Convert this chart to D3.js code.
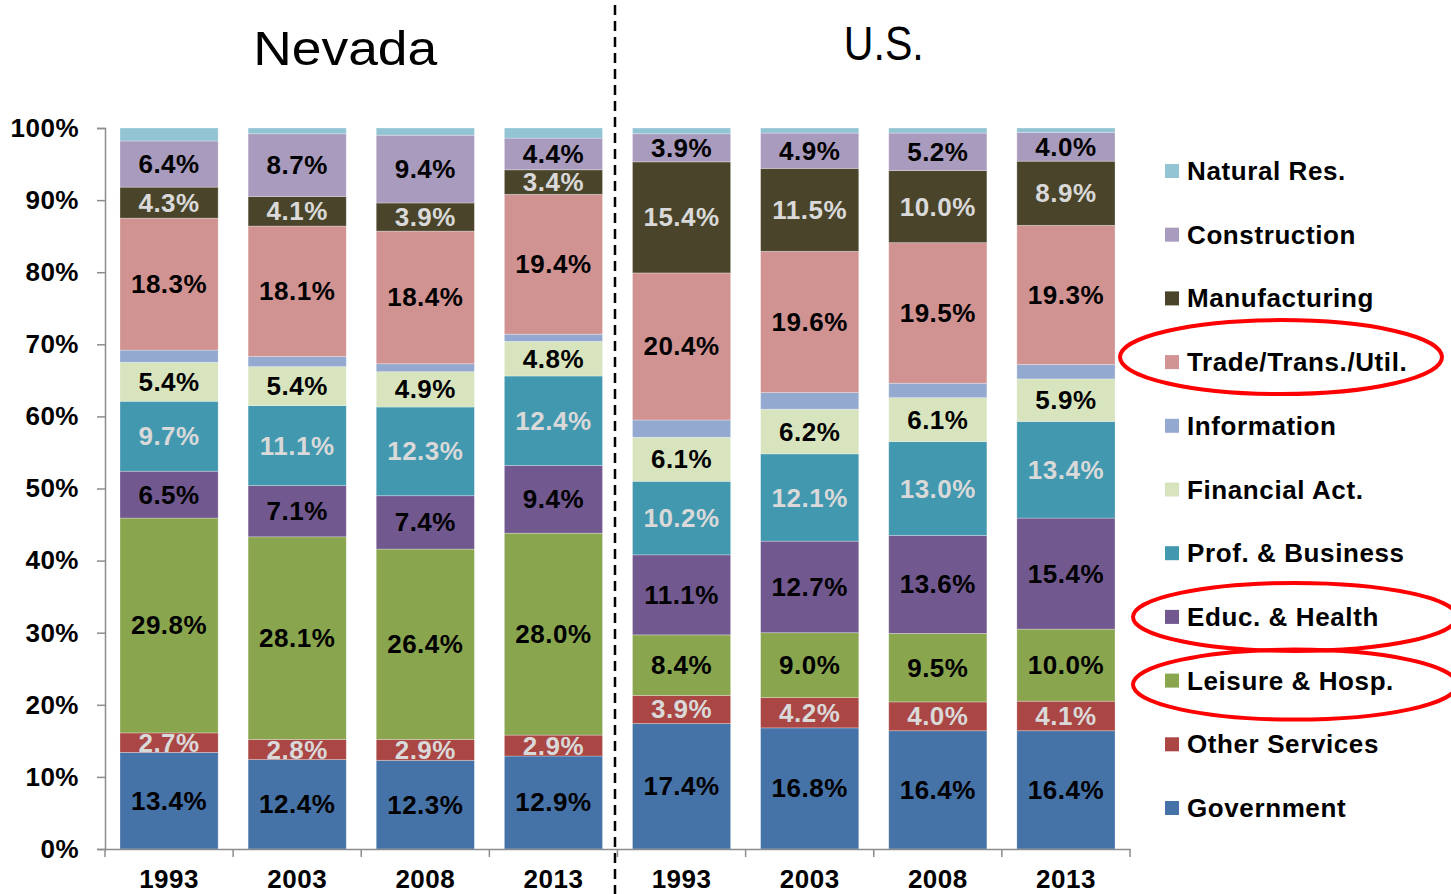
<!DOCTYPE html>
<html>
<head>
<meta charset="utf-8">
<script src="https://cdn.jsdelivr.net/npm/d3@7"></script>
<style>
  html, body { margin: 0; padding: 0; background: #fff; }
  svg { display: block; font-family: "Liberation Sans", Arial, sans-serif; }
</style>
</head>
<body>
<svg id="chart" width="1451" height="894"></svg>
<script>
// ---- data ----
const categories = ["NV-1993", "NV-2003", "NV-2008", "NV-2013", "US-1993", "US-2003", "US-2008", "US-2013"];
const yearLabels = ["1993", "2003", "2008", "2013", "1993", "2003", "2008", "2013"];
const groupTitles = ["Nevada", "U.S."];
// series in stacking order (bottom to top)
const seriesNames = ["Government", "Other Services", "Leisure & Hosp.", "Educ. & Health", "Prof. & Business",
  "Financial Act.", "Information", "Trade/Trans./Util.", "Manufacturing", "Construction", "Natural Res."];
const government   = [13.4, 12.4, 12.3, 12.9, 17.4, 16.8, 16.4, 16.4];
const otherServices= [2.7, 2.8, 2.9, 2.9, 3.9, 4.2, 4.0, 4.1];
const leisure      = [29.8, 28.1, 26.4, 28.0, 8.4, 9.0, 9.5, 10.0];
const education    = [6.5, 7.1, 7.4, 9.4, 11.1, 12.7, 13.6, 15.4];
const profBusiness = [9.7, 11.1, 12.3, 12.4, 10.2, 12.1, 13.0, 13.4];
const financial    = [5.4, 5.4, 4.9, 4.8, 6.1, 6.2, 6.1, 5.9];
const information  = [1.7, 1.4, 1.1, 1.0, 2.4, 2.3, 2.0, 2.0];
const trade        = [18.3, 18.1, 18.4, 19.4, 20.4, 19.6, 19.5, 19.3];
const manufacturing= [4.3, 4.1, 3.9, 3.4, 15.4, 11.5, 10.0, 8.9];
const construction = [6.4, 8.7, 9.4, 4.4, 3.9, 4.9, 5.2, 4.0];
const naturalRes   = [1.8, 0.8, 1.0, 1.4, 0.8, 0.7, 0.7, 0.6];
const seriesValues = [government, otherServices, leisure, education, profBusiness, financial,
  information, trade, manufacturing, construction, naturalRes];
const seriesColors = ["#4572A7", "#AA4643", "#89A54E", "#71588F", "#4198AF", "#D7E4BD",
  "#93A9D0", "#D19392", "#4A452A", "#A99BBD", "#92C4D4"];
const labelColors  = ["#000", "#d9d9d9", "#000", "#000", "#d9d9d9", "#000", null, "#000", "#d9d9d9", "#000", null];
const yTicks = [0, 10, 20, 30, 40, 50, 60, 70, 80, 90, 100];
const legendOrder = ["Natural Res.", "Construction", "Manufacturing", "Trade/Trans./Util.", "Information",
  "Financial Act.", "Prof. & Business", "Educ. & Health", "Leisure & Hosp.", "Other Services", "Government"];

// ---- build table ----
const table = categories.map((c, i) => {
  const row = { cat: c };
  seriesNames.forEach((s, j) => row[s] = seriesValues[j][i]);
  return row;
});

const svg = d3.select("#chart");
const x = d3.scaleBand().domain(categories).range([105, 1130]).paddingInner(0.234).paddingOuter(0.117);
const y = d3.scaleLinear().domain([0, 100]).range([849, 128]);

const stack = d3.stack().keys(seriesNames);
const layers = stack(table);

const font = "Liberation Sans, Arial, sans-serif";
const FS = 26, LS = 0.5;

// bars
const g = svg.append("g");
layers.forEach((layer, li) => {
  g.append("g").selectAll("rect").data(layer).join("rect")
    .attr("x", d => x(d.data.cat))
    .attr("width", x.bandwidth())
    .attr("y", d => y(d[1]))
    .attr("height", d => y(d[0]) - y(d[1]))
    .attr("fill", seriesColors[li])
    .attr("stroke", "rgba(255,255,255,0.35)")
    .attr("stroke-width", 0.8);
});

// labels
layers.forEach((layer, li) => {
  if (!labelColors[li]) return;
  g.append("g").selectAll("text").data(layer).join("text")
    .attr("x", d => x(d.data.cat) + x.bandwidth() / 2)
    .attr("y", d => (y(d[0]) + y(d[1])) / 2)
    .attr("text-anchor", "middle")
    .attr("dominant-baseline", "central")
    .attr("font-size", FS)
    .attr("letter-spacing", LS)
    .attr("font-weight", "bold")
    .attr("fill", labelColors[li])
    .text(d => (d[1] - d[0]).toFixed(1) + "%");
});

// y axis
const yAxis = svg.append("g").attr("transform", "translate(105,0)")
  .call(d3.axisLeft(y).tickValues(yTicks).tickFormat(d => d + "%").tickSize(8).tickPadding(18));
yAxis.select(".domain").attr("stroke", "#8c8c8c").attr("stroke-width", 1.5);
yAxis.selectAll(".tick line").attr("stroke", "#8c8c8c").attr("stroke-width", 1.5);
yAxis.selectAll(".tick text").attr("font-size", FS).attr("letter-spacing", LS).attr("font-weight", "bold")
  .attr("fill", "#000").attr("font-family", font);

// x axis
const xAxis = svg.append("g").attr("transform", "translate(0,849)")
  .call(d3.axisBottom(x).tickFormat((d, i) => yearLabels[i]).tickSize(0).tickPadding(21));
xAxis.select(".domain").attr("stroke", "#8c8c8c").attr("stroke-width", 1.5);
xAxis.selectAll(".tick text").attr("font-size", FS).attr("letter-spacing", LS).attr("font-weight", "bold")
  .attr("fill", "#000").attr("font-family", font);
// category boundary ticks
const bounds = categories.map(c => x(c) - x.step() * x.paddingInner() / 2).concat([1130]);
svg.append("g").selectAll("line").data(bounds).join("line")
  .attr("x1", d => d).attr("x2", d => d).attr("y1", 849).attr("y2", 857)
  .attr("stroke", "#8c8c8c").attr("stroke-width", 1.5);

// divider
svg.append("line").attr("x1", 615).attr("x2", 615).attr("y1", 5).attr("y2", 894)
  .attr("stroke", "#000").attr("stroke-width", 2.5).attr("stroke-dasharray", "10,6");

// group titles
const titleX = [ (x(categories[0]) + x(categories[3]) + x.bandwidth()) / 2,
                 (x(categories[4]) + x(categories[7]) + x.bandwidth()) / 2 ];
const titleOffsets = [-16, 10];
const titleBase = [65, 60];
const titleLens = [184, 80];
svg.append("g").selectAll("text").data(groupTitles).join("text")
  .attr("x", (d, i) => titleX[i] + titleOffsets[i])
  .attr("y", (d, i) => titleBase[i])
  .attr("text-anchor", "middle")
  .attr("font-size", 48)
  .attr("textLength", (d, i) => titleLens[i])
  .attr("lengthAdjust", "spacingAndGlyphs")
  .attr("fill", "#000")
  .text(d => d);

// legend
const legend = svg.append("g");
const legY = d3.scaleLinear().domain([0, legendOrder.length - 1]).range([171, 808]);
legendOrder.forEach((name, i) => {
  const si = seriesNames.indexOf(name);
  legend.append("rect").attr("x", 1165).attr("y", legY(i) - 7).attr("width", 14).attr("height", 14)
    .attr("fill", seriesColors[si]);
  legend.append("text").attr("x", 1187).attr("y", legY(i)).attr("dominant-baseline", "central")
    .attr("font-size", FS).attr("letter-spacing", 0.6).attr("font-weight", "bold").attr("fill", "#000").text(name);
});

// highlight ellipses
const ell = [{ name: "Trade/Trans./Util.", cx: 1281, rx: 161, ry: 37, dy: -5 },
             { name: "Educ. & Health", cx: 1295, rx: 162, ry: 34, dy: 0 },
             { name: "Leisure & Hosp.", cx: 1295, rx: 162, ry: 35, dy: 4 }];
svg.append("g").selectAll("ellipse").data(ell).join("ellipse")
  .attr("cx", d => d.cx)
  .attr("cy", d => legY(legendOrder.indexOf(d.name)) + d.dy)
  .attr("rx", d => d.rx).attr("ry", d => d.ry)
  .attr("fill", "none").attr("stroke", "#ff0000").attr("stroke-width", 4);
</script>
</body>
</html>
